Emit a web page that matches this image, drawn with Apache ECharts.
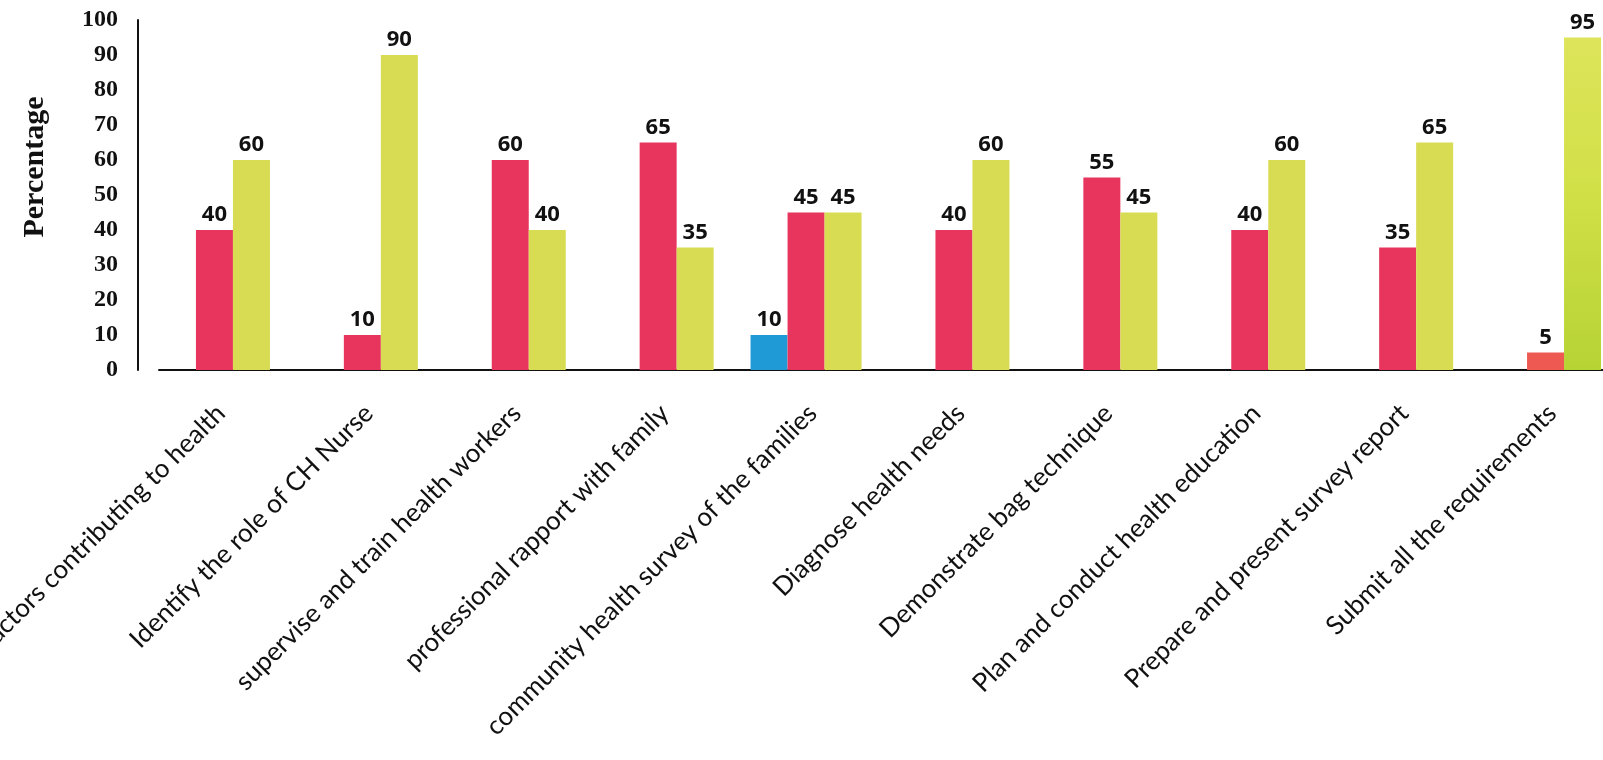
<!DOCTYPE html>
<html>
<head>
<meta charset="utf-8">
<script src="https://cdn.jsdelivr.net/npm/echarts@6/dist/echarts.min.js"></script>
<style>
html, body { margin: 0; padding: 0; background: #fff; }
#chart { width: 1603px; height: 760px; }
</style>
</head>
<body>
<div id="chart"></div>
<script>
var categories = [
	'Identify factors contributing to health',
	'Identify the role of CH Nurse',
	'supervise and train health workers',
	'professional rapport with family',
	'community health survey of the families',
	'Diagnose health needs',
	'Demonstrate bag technique',
	'Plan and conduct health education',
	'Prepare and present survey report',
	'Submit all the requirements'
];
var blueValues = [null, null, null, null, 10, null, null, null, null, null];
var redValues = [40, 10, 60, 65, 45, 40, 55, 40, 35, 5];
var yellowValues = [60, 90, 40, 35, 45, 60, 45, 60, 65, 95];
var yTicks = [0, 10, 20, 30, 40, 50, 60, 70, 80, 90, 100];

var myChart = echarts.init(document.getElementById('chart'));

var valueLabel = {
	show: true,
	position: 'top',
	distance: 4,
	fontFamily: 'Open Sans',
	fontWeight: 'bold',
	fontSize: 22,
	color: '#111'
};

// the last pair of bars is coloured a little differently in the original
function redColor(p) {
	return p.dataIndex === 9 ? '#ee5a52' : '#e8355e';
}
function yellowColor(p) {
	if (p.dataIndex === 9) {
		return new echarts.graphic.LinearGradient(0, 0, 0, 1, [
			{ offset: 0, color: '#dde45a' },
			{ offset: 0.45, color: '#d2e048' },
			{ offset: 1, color: '#b6d334' }
		]);
	}
	return '#d8dc52';
}

var option = {
	backgroundColor: '#fff',
	animation: false,
	grid: {
		left: 159,
		right: -35,
		top: 20,
		bottom: 390,
		containLabel: false,
		outerBoundsMode: 'none'
	},
	xAxis: [{
		type: 'category',
		data: categories,
		axisTick: { show: false },
		axisLine: { lineStyle: { color: '#111', width: 2 } },
		axisLabel: {
			interval: 0,
			rotate: 45,
			margin: 27,
			padding: [0, 17, 0, 0],
			fontFamily: 'Lato',
			fontSize: 26,
			color: '#111'
		}
	}, {
		// hidden axis so the blue bar sits left of red
		type: 'category',
		data: categories,
		show: false
	}],
	yAxis: [{
		type: 'value',
		min: yTicks[0],
		max: yTicks[yTicks.length - 1],
		interval: 10,
		offset: 21,
		name: 'Percentage',
		nameLocation: 'middle',
		nameGap: 88,
		nameTextStyle: {
			fontFamily: 'Liberation Serif',
			fontWeight: 'bold',
			fontSize: 30,
			color: '#111',
			padding: [0, 0, 0, 56]
		},
		splitLine: { show: false },
		axisTick: { show: false },
		axisLine: { show: true, lineStyle: { color: '#111', width: 2 } },
		axisLabel: {
			margin: 20,
			fontFamily: 'Liberation Serif',
			fontWeight: 'bold',
			fontSize: 24,
			color: '#111'
		}
	}],
	series: [{
		name: 'Blue',
		type: 'bar',
		xAxisIndex: 1,
		data: blueValues,
		barWidth: 37,
		barGap: '200%',
		itemStyle: { color: '#1f9ad6' },
		label: valueLabel
	}, {
		name: 'Spacer',
		type: 'bar',
		xAxisIndex: 1,
		data: [],
		barWidth: 37,
		barGap: '200%'
	}, {
		name: 'Red',
		type: 'bar',
		xAxisIndex: 0,
		data: redValues,
		barWidth: 37,
		barGap: 0,
		itemStyle: { color: redColor },
		label: valueLabel
	}, {
		name: 'Yellow',
		type: 'bar',
		xAxisIndex: 0,
		data: yellowValues,
		barWidth: 37,
		barGap: 0,
		itemStyle: { color: yellowColor },
		label: valueLabel
	}]
};
myChart.setOption(option);
</script>
</body>
</html>
